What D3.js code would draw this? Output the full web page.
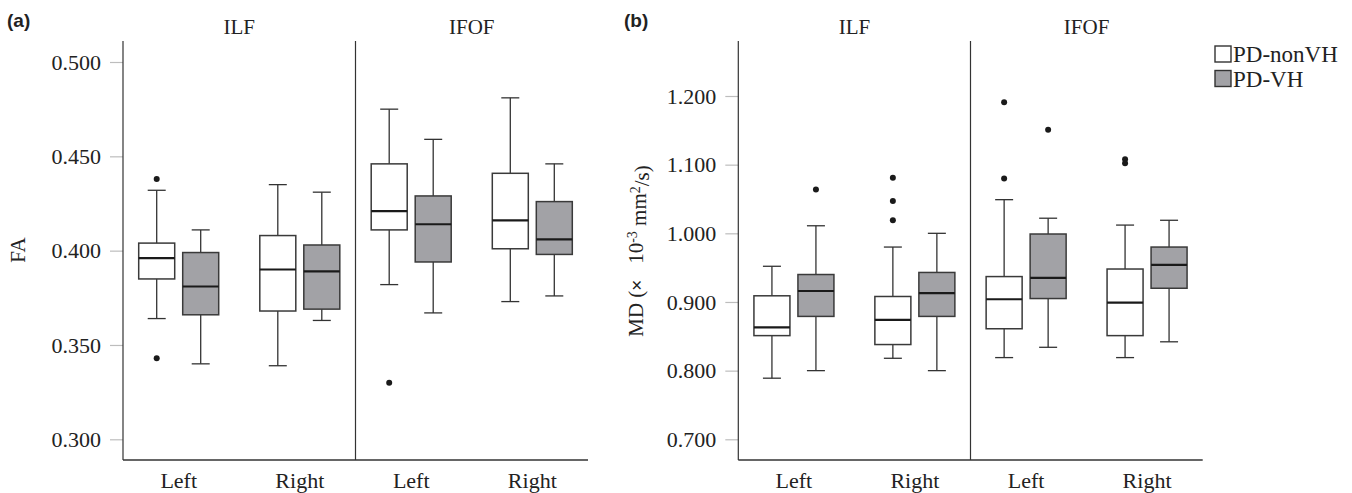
<!DOCTYPE html>
<html>
<head>
<meta charset="utf-8">
<script src="https://cdn.jsdelivr.net/npm/d3@7"></script>
<style>
  body { margin: 0; background: #fff; }
  svg text { font-family: 'Liberation Serif', 'Times New Roman', serif; fill: #222; }
</style>
</head>
<body>
<svg id="chart" width="1352" height="493"></svg>
<script>
/* categories */
const tracts = ["ILF", "IFOF"];
const sides = ["Left", "Right"];
const groups = ["PD-nonVH", "PD-VH"];

/* FA boxes: tract, side, group, lower whisker, Q1, median, Q3, upper whisker */
const faBoxes = [
  ["ILF", "Left", "PD-nonVH", 0.364, 0.385, 0.396, 0.404, 0.432],
  ["ILF", "Left", "PD-VH", 0.340, 0.366, 0.381, 0.399, 0.411],
  ["ILF", "Right", "PD-nonVH", 0.339, 0.368, 0.390, 0.408, 0.435],
  ["ILF", "Right", "PD-VH", 0.363, 0.369, 0.389, 0.403, 0.431],
  ["IFOF", "Left", "PD-nonVH", 0.382, 0.411, 0.421, 0.446, 0.475],
  ["IFOF", "Left", "PD-VH", 0.367, 0.394, 0.414, 0.429, 0.459],
  ["IFOF", "Right", "PD-nonVH", 0.373, 0.401, 0.416, 0.441, 0.481],
  ["IFOF", "Right", "PD-VH", 0.376, 0.398, 0.406, 0.426, 0.446]
];
const faOutliers = [
  ["ILF", "Left", "PD-nonVH", 0.438],
  ["ILF", "Left", "PD-nonVH", 0.343],
  ["IFOF", "Left", "PD-nonVH", 0.330]
];
const faTicks = [0.300, 0.350, 0.400, 0.450, 0.500];

/* MD boxes (x 10^-3 mm2/s) */
const mdBoxes = [
  ["ILF", "Left", "PD-nonVH", 0.789, 0.851, 0.863, 0.909, 0.952],
  ["ILF", "Left", "PD-VH", 0.800, 0.879, 0.916, 0.940, 1.011],
  ["ILF", "Right", "PD-nonVH", 0.818, 0.838, 0.874, 0.908, 0.980],
  ["ILF", "Right", "PD-VH", 0.800, 0.879, 0.913, 0.943, 1.000],
  ["IFOF", "Left", "PD-nonVH", 0.819, 0.861, 0.904, 0.937, 1.049],
  ["IFOF", "Left", "PD-VH", 0.834, 0.905, 0.935, 0.999, 1.022],
  ["IFOF", "Right", "PD-nonVH", 0.819, 0.851, 0.899, 0.948, 1.012],
  ["IFOF", "Right", "PD-VH", 0.842, 0.920, 0.954, 0.980, 1.019]
];
const mdOutliers = [
  ["ILF", "Left", "PD-VH", 1.064],
  ["ILF", "Right", "PD-nonVH", 1.019],
  ["ILF", "Right", "PD-nonVH", 1.047],
  ["ILF", "Right", "PD-nonVH", 1.081],
  ["IFOF", "Left", "PD-nonVH", 1.080],
  ["IFOF", "Left", "PD-nonVH", 1.191],
  ["IFOF", "Left", "PD-VH", 1.151],
  ["IFOF", "Right", "PD-nonVH", 1.102],
  ["IFOF", "Right", "PD-nonVH", 1.108]
];
const mdTicks = [0.700, 0.800, 0.900, 1.000, 1.100, 1.200];

const fillColour = d3.scaleOrdinal().domain(groups).range(["#ffffff", "#a2a2a6"]);

const svg = d3.select("#chart");
const serif = "'Liberation Serif', 'Times New Roman', serif";

/* layout shared by both panels */
const plotTop = 41;
const plotBottom = 460;
const boxWidth = 36;
const capWidth = 18;

function drawPanel(opt) {
  const g = svg.append("g");
  const facetW = opt.facetWidth;

  const y = d3.scaleLinear().domain(opt.domain).range(opt.range);
  const facetX = d3.scaleBand().domain(tracts).range([opt.x0, opt.x0 + 2 * facetW]);
  const sideX = d3.scalePoint().domain(sides).range([0, facetW]).padding(0.46);
  const groupX = d3.scalePoint().domain(groups).range([-22, 22]);
  const cx = (t, s, gr) => facetX(t) + sideX(s) + groupX(gr);

  /* y axis */
  const axis = g.append("g")
    .attr("transform", "translate(" + opt.x0 + ",0)")
    .call(d3.axisLeft(y).tickValues(opt.ticks).tickSize(13).tickPadding(9).tickFormat(d3.format(".3f")))
    .attr("font-family", serif)
    .attr("font-size", 22);
  axis.select(".domain").remove();
  axis.selectAll(".tick line").attr("stroke", "#bdbdbd").attr("stroke-width", 1.2);
  axis.selectAll(".tick text")
    .attr("font-family", serif)
    .style("font-family", serif)
    .style("font-size", "22px")
    .attr("fill", "#222");

  /* frame: left axis, facet divider, bottom axis */
  g.append("line").attr("x1", opt.x0).attr("x2", opt.x0).attr("y1", plotTop).attr("y2", plotBottom)
    .attr("stroke", "#333").attr("stroke-width", 1.2);
  g.append("line").attr("x1", facetX("IFOF")).attr("x2", facetX("IFOF")).attr("y1", plotTop).attr("y2", plotBottom)
    .attr("stroke", "#333").attr("stroke-width", 1.2);
  g.append("line").attr("x1", opt.x0).attr("x2", opt.x0 + 2 * facetW).attr("y1", plotBottom).attr("y2", plotBottom)
    .attr("stroke", "#333").attr("stroke-width", 1.5);

  /* facet titles */
  tracts.forEach(t => {
    g.append("text")
      .attr("x", facetX(t) + facetW / 2)
      .attr("y", 34)
      .attr("text-anchor", "middle")
      .style("font-size", "21px")
      .text(t);
    sides.forEach(s => {
      g.append("text")
        .attr("x", facetX(t) + sideX(s))
        .attr("y", 488)
        .attr("text-anchor", "middle")
        .style("font-size", "22px")
        .text(s);
    });
  });

  /* boxes */
  const box = g.selectAll("g.box").data(opt.boxes).enter().append("g").attr("class", "box");
  box.append("line")
    .attr("x1", d => cx(d[0], d[1], d[2])).attr("x2", d => cx(d[0], d[1], d[2]))
    .attr("y1", d => y(d[3])).attr("y2", d => y(d[7]))
    .attr("stroke", "#333").attr("stroke-width", 1.3);
  [3, 7].forEach(k => {
    box.append("line")
      .attr("x1", d => cx(d[0], d[1], d[2]) - capWidth / 2).attr("x2", d => cx(d[0], d[1], d[2]) + capWidth / 2)
      .attr("y1", d => y(d[k])).attr("y2", d => y(d[k]))
      .attr("stroke", "#333").attr("stroke-width", 1.3);
  });
  box.append("rect")
    .attr("x", d => cx(d[0], d[1], d[2]) - boxWidth / 2)
    .attr("width", boxWidth)
    .attr("y", d => y(d[6]))
    .attr("height", d => y(d[4]) - y(d[6]))
    .attr("fill", d => fillColour(d[2]))
    .attr("stroke", "#3a3a3a").attr("stroke-width", 1.5);
  box.append("line")
    .attr("x1", d => cx(d[0], d[1], d[2]) - boxWidth / 2).attr("x2", d => cx(d[0], d[1], d[2]) + boxWidth / 2)
    .attr("y1", d => y(d[5])).attr("y2", d => y(d[5]))
    .attr("stroke", "#1a1a1a").attr("stroke-width", 2.2);

  g.selectAll("circle.out").data(opt.outliers).enter().append("circle")
    .attr("class", "out")
    .attr("cx", d => cx(d[0], d[1], d[2]))
    .attr("cy", d => y(d[3]))
    .attr("r", 3)
    .attr("fill", "#1a1a1a");

  /* panel letter */
  g.append("text")
    .attr("x", opt.letterX).attr("y", 27)
    .style("font-family", "'Liberation Sans', Arial, sans-serif")
    .style("font-weight", "bold")
    .style("font-size", "19px")
    .text(opt.letter);

  return g;
}

const panelA = drawPanel({
  x0: 123, facetWidth: 232.5,
  domain: [0.3, 0.5], range: [439.3, 62],
  ticks: faTicks, boxes: faBoxes, outliers: faOutliers,
  letter: "(a)", letterX: 7
});
panelA.append("text")
  .attr("transform", "translate(25,250) rotate(-90)")
  .attr("text-anchor", "middle")
  .style("font-size", "21px")
  .text("FA");

const panelB = drawPanel({
  x0: 738.3, facetWidth: 232.2,
  domain: [0.7, 1.2], range: [439.3, 96],
  ticks: mdTicks, boxes: mdBoxes, outliers: mdOutliers,
  letter: "(b)", letterX: 624
});
const mdLabel = panelB.append("text")
  .attr("transform", "translate(643,251) rotate(-90)")
  .attr("text-anchor", "middle")
  .style("font-size", "21px");
mdLabel.append("tspan").text("MD (");
mdLabel.append("tspan").style("font-family", "'Liberation Sans', sans-serif").style("font-size", "19px").text("\u00d7");
mdLabel.append("tspan").text("\u00a0\u00a0 10");
mdLabel.append("tspan").attr("dy", "-0.45em").style("font-size", "14px").text("-3");
mdLabel.append("tspan").attr("dy", "0.45em").text(" mm");
mdLabel.append("tspan").attr("dy", "-0.45em").style("font-size", "14px").text("2");
mdLabel.append("tspan").attr("dy", "0.45em").text("/s)");

/* legend */
const legend = svg.append("g").attr("transform", "translate(1215,46)");
groups.forEach((gr, i) => {
  legend.append("rect")
    .attr("x", 0).attr("y", i * 24.5)
    .attr("width", 16).attr("height", 16)
    .attr("fill", fillColour(gr))
    .attr("stroke", "#333").attr("stroke-width", 1.4);
  legend.append("text")
    .attr("x", 18).attr("y", i * 24.5 + 16)
    .style("font-size", "23px")
    .text(gr);
});
</script>
</body>
</html>
